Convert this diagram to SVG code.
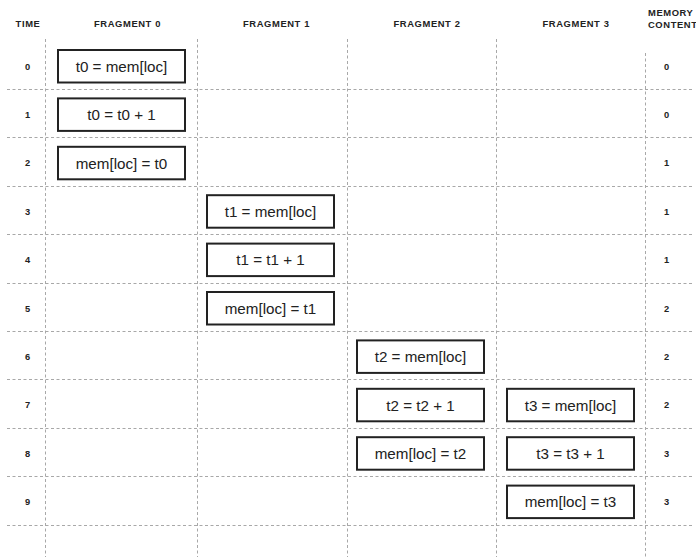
<svg xmlns="http://www.w3.org/2000/svg" width="696" height="557" viewBox="0 0 696 557">
<style>
.grid{stroke:#a8a8a8;stroke-width:1;stroke-dasharray:3 2.5;fill:none}
.box{fill:#fff;stroke:#222;stroke-width:2}
.bt{font-family:"Liberation Sans",Arial,sans-serif;font-size:15.2px;fill:#222;text-anchor:middle}
.hd{font-family:"Liberation Sans",Arial,sans-serif;font-size:9.4px;font-weight:bold;fill:#222;text-anchor:middle;letter-spacing:0.6px}
.num{font-family:"Liberation Sans",Arial,sans-serif;font-size:9.3px;font-weight:bold;fill:#222;text-anchor:middle}
</style>
<rect width="696" height="557" fill="#fff"/>
<g id="grid">
<line class="grid" x1="45.5" y1="39" x2="45.5" y2="557"/>
<line class="grid" x1="197.5" y1="39" x2="197.5" y2="557"/>
<line class="grid" x1="347.5" y1="39" x2="347.5" y2="557"/>
<line class="grid" x1="496.5" y1="39" x2="496.5" y2="557"/>
<line class="grid" x1="645.5" y1="53" x2="645.5" y2="557"/>
<line class="grid" x1="7" y1="89.5" x2="692" y2="89.5"/>
<line class="grid" x1="7" y1="137.5" x2="692" y2="137.5"/>
<line class="grid" x1="7" y1="186.5" x2="692" y2="186.5"/>
<line class="grid" x1="7" y1="234.5" x2="692" y2="234.5"/>
<line class="grid" x1="7" y1="283.5" x2="692" y2="283.5"/>
<line class="grid" x1="7" y1="331.5" x2="692" y2="331.5"/>
<line class="grid" x1="7" y1="379.5" x2="692" y2="379.5"/>
<line class="grid" x1="7" y1="428.5" x2="692" y2="428.5"/>
<line class="grid" x1="7" y1="476.5" x2="692" y2="476.5"/>
<line class="grid" x1="7" y1="525.5" x2="692" y2="525.5"/>
</g>
<g id="headers">
<text class="hd" x="28" y="27">TIME</text>
<text class="hd" x="127.5" y="27">FRAGMENT 0</text>
<text class="hd" x="276.5" y="27">FRAGMENT 1</text>
<text class="hd" x="427" y="27">FRAGMENT 2</text>
<text class="hd" x="576" y="27">FRAGMENT 3</text>
<text class="hd" x="648" y="15.5" style="text-anchor:start">MEMORY</text>
<text class="hd" x="648" y="27.5" style="text-anchor:start">CONTENT</text>
</g>
<g id="times">
<text class="num" x="27.5" y="69.5">0</text>
<text class="num" x="27.5" y="117.9">1</text>
<text class="num" x="27.5" y="166.3">2</text>
<text class="num" x="27.5" y="214.7">3</text>
<text class="num" x="27.5" y="263.1">4</text>
<text class="num" x="27.5" y="311.5">5</text>
<text class="num" x="27.5" y="359.9">6</text>
<text class="num" x="27.5" y="408.3">7</text>
<text class="num" x="27.5" y="456.7">8</text>
<text class="num" x="27.5" y="505.1">9</text>
</g>
<g id="memory">
<text class="num" x="666.5" y="69.5">0</text>
<text class="num" x="666.5" y="117.9">0</text>
<text class="num" x="666.5" y="166.3">1</text>
<text class="num" x="666.5" y="214.7">1</text>
<text class="num" x="666.5" y="263.1">1</text>
<text class="num" x="666.5" y="311.5">2</text>
<text class="num" x="666.5" y="359.9">2</text>
<text class="num" x="666.5" y="408.3">2</text>
<text class="num" x="666.5" y="456.7">3</text>
<text class="num" x="666.5" y="505.1">3</text>
</g>
<g id="f0-r0"><rect class="box" x="58" y="50" width="127" height="32.5"/><text class="bt" x="121.5" y="71.8">t0 = mem[loc]</text></g>
<g id="f0-r1"><rect class="box" x="58" y="98.4" width="127" height="32.5"/><text class="bt" x="121.5" y="120.2">t0 = t0 + 1</text></g>
<g id="f0-r2"><rect class="box" x="58" y="146.8" width="127" height="32.5"/><text class="bt" x="121.5" y="168.6">mem[loc] = t0</text></g>
<g id="f1-r3"><rect class="box" x="207" y="195.2" width="127" height="32.5"/><text class="bt" x="270.5" y="217">t1 = mem[loc]</text></g>
<g id="f1-r4"><rect class="box" x="207" y="243.6" width="127" height="32.5"/><text class="bt" x="270.5" y="265.4">t1 = t1 + 1</text></g>
<g id="f1-r5"><rect class="box" x="207" y="292" width="127" height="32.5"/><text class="bt" x="270.5" y="313.8">mem[loc] = t1</text></g>
<g id="f2-r6"><rect class="box" x="357" y="340.4" width="127" height="32.5"/><text class="bt" x="420.5" y="362.2">t2 = mem[loc]</text></g>
<g id="f2-r7"><rect class="box" x="357" y="388.8" width="127" height="32.5"/><text class="bt" x="420.5" y="410.6">t2 = t2 + 1</text></g>
<g id="f2-r8"><rect class="box" x="357" y="437.2" width="127" height="32.5"/><text class="bt" x="420.5" y="459">mem[loc] = t2</text></g>
<g id="f3-r7"><rect class="box" x="507" y="388.8" width="127" height="32.5"/><text class="bt" x="570.5" y="410.6">t3 = mem[loc]</text></g>
<g id="f3-r8"><rect class="box" x="507" y="437.2" width="127" height="32.5"/><text class="bt" x="570.5" y="459">t3 = t3 + 1</text></g>
<g id="f3-r9"><rect class="box" x="507" y="485.6" width="127" height="32.5"/><text class="bt" x="570.5" y="507.4">mem[loc] = t3</text></g>
</svg>
